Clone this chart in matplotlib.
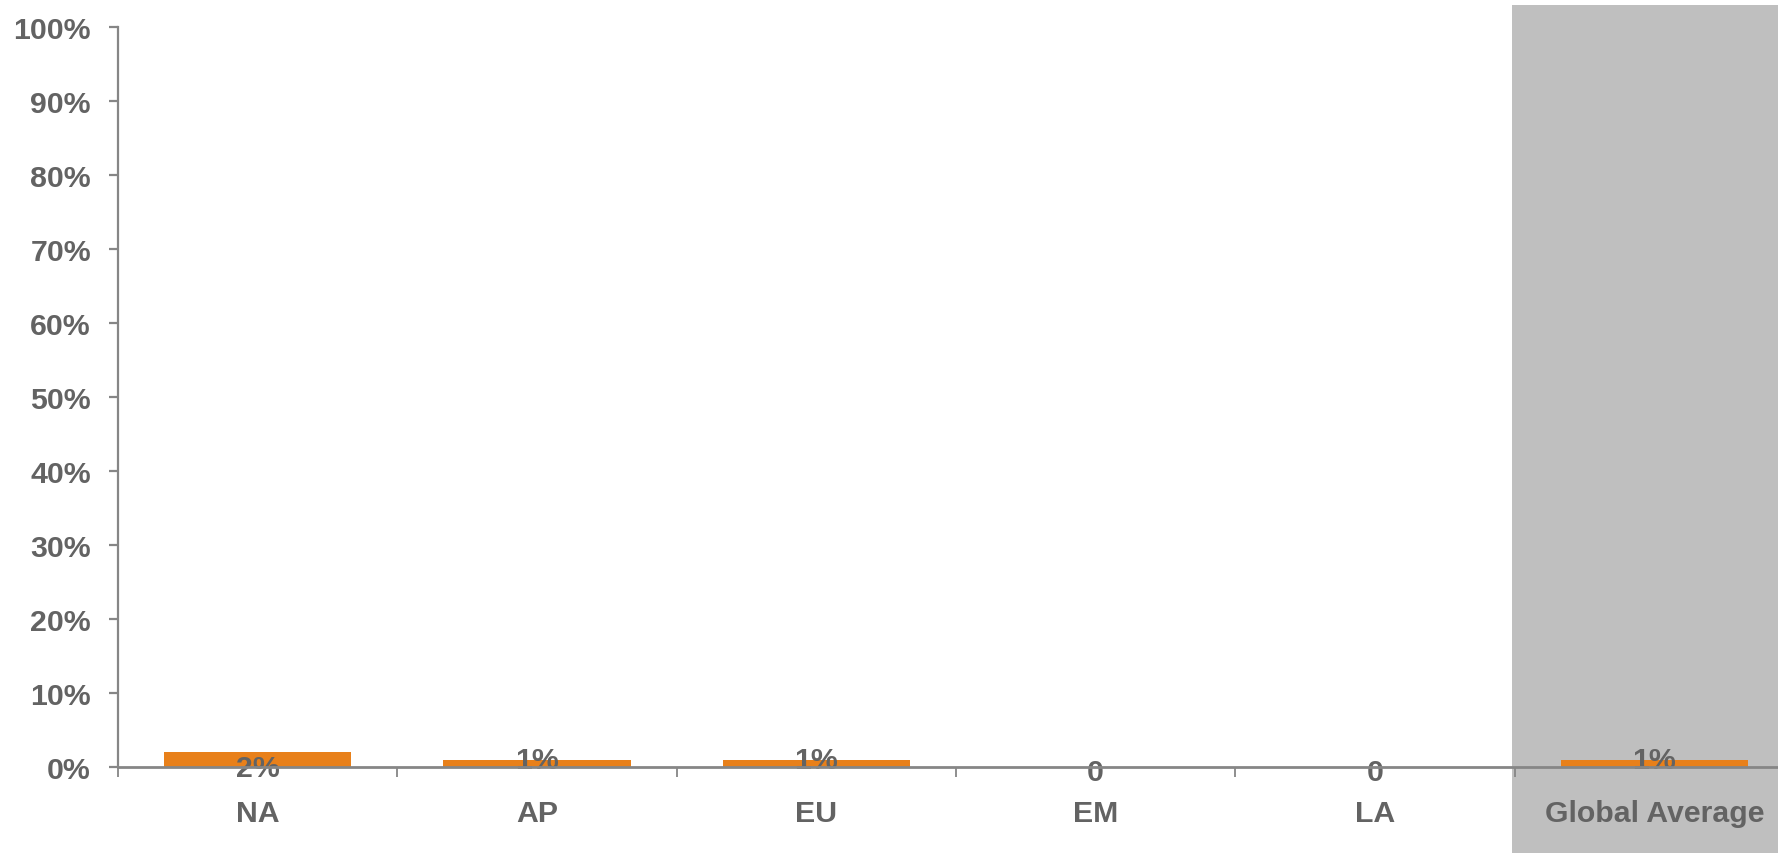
import matplotlib
matplotlib.use("Agg")
import matplotlib.pyplot as plt
from matplotlib.ticker import FixedLocator, FuncFormatter

categories = ["NA", "AP", "EU", "EM", "LA", "Global Average"]
values = [2, 1, 1, 0, 0, 1]
yticks = [0, 10, 20, 30, 40, 50, 60, 70, 80, 90, 100]

TXT = "#636363"
AX = "#868686"
BAR = "#E8801A"
BAND = "#BFBFBF"

plt.rcParams["font.family"] = ["Liberation Sans", "DejaVu Sans"]
plt.rcParams["font.weight"] = "bold"

FS = 21.8

fig = plt.figure(figsize=(17.78, 8.54), dpi=100)
ax = fig.add_axes([118 / 1778, 86 / 854, 1676 / 1778, 740 / 854])

x = list(range(len(categories)))
ax.set_xlim(-0.5, len(categories) - 0.5)
ax.set_ylim(0, 100)

# highlighted band behind the last category
ax.axvspan(len(categories) - 1.51, len(categories) - 0.5, ymin=-0.12, ymax=1.03,
           color=BAND, clip_on=False, zorder=0, lw=0)

ax.bar(x, values, width=0.67, color=BAR, zorder=2)

for xi, v in zip(x, values):
    lab = f"{v}%" if v else "0"
    if v >= 2:
        y = v - 2.2
    elif v > 0:
        y = v - 0.05
    else:
        y = -0.7
    ax.text(xi, y, lab, ha="center", va="center", fontsize=FS,
            fontweight="bold", color=TXT, zorder=3, clip_on=False)

for s in ["top", "right"]:
    ax.spines[s].set_visible(False)
ax.spines["left"].set_color(AX)
ax.spines["bottom"].set_color(AX)
ax.spines["left"].set_linewidth(1.6)
ax.spines["bottom"].set_linewidth(2.0)
ax.spines["bottom"].set_zorder(4)

ax.yaxis.set_major_locator(FixedLocator(yticks))
ax.yaxis.set_major_formatter(FuncFormatter(lambda v, p: f"{int(v)}%"))
ax.tick_params(axis="y", length=6.5, width=1.6, color=AX, labelsize=FS,
               labelcolor=TXT, pad=13)

ax.set_xticks(x)
ax.set_xticklabels(categories)
ax.set_xticks([i - 0.5 for i in range(len(categories) + 1)], minor=True)
ax.tick_params(axis="x", which="major", length=0, labelsize=FS,
               labelcolor=TXT, pad=23)
ax.tick_params(axis="x", which="minor", length=7.5, width=1.3, color=AX)
for t in ax.get_xticklabels() + ax.get_yticklabels():
    t.set_fontweight("bold")

fig.savefig("out.png", dpi=100)
